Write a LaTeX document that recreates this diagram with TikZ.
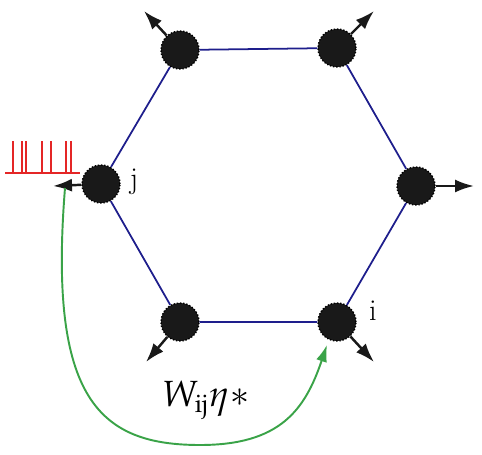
\documentclass[tikz,border=0pt]{standalone}
\usepackage{amsmath}
\usepackage{mathpazo}
\usetikzlibrary{arrows.meta}
\definecolor{ringblue}{RGB}{30,30,140}
\definecolor{spikered}{RGB}{228,38,38}
\definecolor{fbgreen}{RGB}{58,163,72}

\begin{document}
\begin{tikzpicture}[x=0.02cm, y=-0.02cm,
    neuron/.style={circle, draw=black, densely dotted, thick, fill=black!90, minimum size=0.76cm, inner sep=0pt},
    link/.style={draw=ringblue, line width=1pt},
    outarr/.style={-{Latex[length=0.38cm, width=0.26cm]}, line width=1.4pt, black!90},
    feedback/.style={-{Latex[length=0.34cm, width=0.22cm]}, line width=1.1pt, fbgreen}]

    \useasboundingbox (0,0) rectangle (482,455);

    % ring of neurons
    \node [neuron] (tl) at (180,50) {};
    \node [neuron] (tr) at (337,48) {};
    \node [neuron] (r) at (416,186) {};
    \node [neuron] (br) at (337,322) {};
    \node [neuron] (bl) at (180,322) {};
    \node [neuron] (j) at (101,184) {};

    \draw [link] (tl) -- (tr) -- (r) -- (br) -- (bl) -- (j) -- (tl);

    \node [font=\LARGE] (jlab) at (134,182) {j};
    \node [font=\LARGE] (ilab) at (373,311) {i};

    % outputs
    \coordinate (tltip) at (144,11);
    \coordinate (trtip) at (374,11);
    \coordinate (rtip) at (474,186);
    \coordinate (brtip) at (374,362);
    \coordinate (bltip) at (146,362);
    \coordinate (jtip) at (53,186);
    \draw [outarr] (tl) -- (tltip);
    \draw [outarr] (tr) -- (trtip);
    \draw [outarr] (r) -- (rtip);
    \draw [outarr] (br) -- (brtip);
    \draw [outarr] (bl) -- (bltip);
    \draw [outarr] (j) -- (jtip);

    % spike train of j
    \draw [spikered, line width=1pt] (5,173) -- (80,173);
    \foreach \s in {13,22,26,42,51,66,71}
        \draw [spikered, line width=0.9pt] (\s,173) -- (\s,141);

    % feedback to i
    \coordinate (spk) at (65,188);
    \draw [feedback, shorten >=3pt] (spk) .. controls (48,400) and (100,445) .. (200,445)
        .. controls (280,445) and (305,410) .. (br.245);
    \node [font=\huge] (w) at (206,400) {$W_{\mathrm{ij}}\eta{*}$};
\end{tikzpicture}
\end{document}
